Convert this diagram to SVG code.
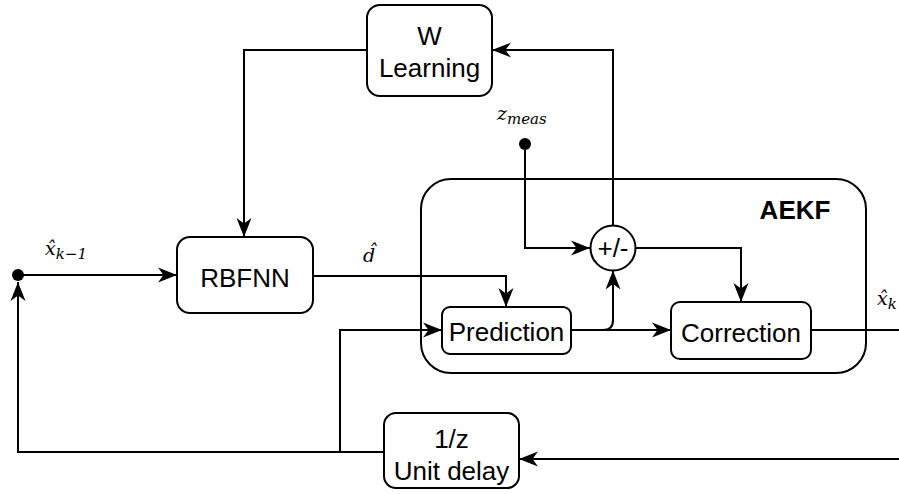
<svg xmlns="http://www.w3.org/2000/svg" width="899" height="494" viewBox="0 0 899 494">
  <defs>
    <marker id="arrow" markerUnits="userSpaceOnUse" markerWidth="20" markerHeight="18" viewBox="0 0 20 18" refX="19" refY="9" orient="auto">
      <path d="M0,1.5 L19,9 L0,16.5 L5.5,9 Z" fill="#000"/>
    </marker>
    <style>
      .box { fill: #fff; stroke: #000; stroke-width: 2; }
      .wire { fill: none; stroke: #000; stroke-width: 2; }
      .arr { marker-end: url(#arrow); }
      .lbl { font-family: "Liberation Sans", Arial, sans-serif; font-size: 26px; fill: #000; text-anchor: middle; }
      .bold { font-weight: bold; }
      .math { font-family: "DejaVu Serif", "Liberation Serif", serif; font-style: italic; fill: #000; }
    </style>
  </defs>

  <!-- AEKF container -->
  <g id="aekf">
    <rect class="box" x="421" y="179" width="445" height="194" rx="30" ry="30"/>
    <text class="lbl bold" x="795" y="219">AEKF</text>
  </g>

  <!-- connectors -->
  <g id="connectors">
    <path class="wire arr" d="M525,144 V248 H590"/>
    <path class="wire arr" d="M613,225.5 V50 H492"/>
    <path class="wire arr" d="M367,50 H244 V237"/>
    <path class="wire arr" d="M635.5,248 H741 V302"/>
    <path class="wire arr" d="M571,330 H671"/>
    <path class="wire arr" d="M571,330 H603 Q613,330 613,320 V270.5"/>
    <path class="wire arr" d="M313,276 H506 V307"/>
    <path class="wire arr" d="M18,275 H177"/>
    <path class="wire arr" d="M384,452 H18 V282"/>
    <path class="wire arr" d="M340,452 V330 H442"/>
    <path class="wire" d="M811,330 H899"/>
    <path class="wire arr" d="M899,459 H519"/>
    <circle cx="18" cy="275" r="6" fill="#000"/>
    <circle cx="525" cy="144" r="6" fill="#000"/>
  </g>

  <!-- signal labels -->
  <g id="labels">
    <text class="math" x="45" y="255" font-size="19">x̂<tspan font-size="15" dy="4">k−1</tspan></text>
    <text class="math" x="363" y="262" font-size="19">d̂</text>
    <text class="math" x="497" y="120" font-size="19">z<tspan font-size="15" dy="4">meas</tspan></text>
    <text class="math" x="877" y="305" font-size="19">x̂<tspan font-size="15" dy="4">k</tspan></text>
  </g>

  <g id="w-learning">
    <rect class="box" x="367" y="5" width="125" height="91" rx="13" ry="13"/>
    <text class="lbl" x="429.5" y="45">W</text>
    <text class="lbl" x="429.5" y="77">Learning</text>
  </g>

  <g id="rbfnn">
    <rect class="box" x="177" y="237" width="136" height="76" rx="13" ry="13"/>
    <text class="lbl" x="245" y="287">RBFNN</text>
  </g>

  <g id="prediction">
    <rect class="box" x="442" y="307" width="129" height="47" rx="8" ry="8"/>
    <text class="lbl" x="506.5" y="341">Prediction</text>
  </g>

  <g id="correction">
    <rect class="box" x="671" y="302" width="140" height="57" rx="9" ry="9"/>
    <text class="lbl" x="741" y="342">Correction</text>
  </g>

  <g id="sum">
    <circle class="box" cx="613" cy="248" r="22.5"/>
    <text class="lbl" x="613" y="257">+/-</text>
  </g>

  <g id="unit-delay">
    <rect class="box" x="384" y="413" width="135" height="75" rx="12" ry="12"/>
    <text class="lbl" x="451.5" y="448">1/z</text>
    <text class="lbl" x="451.5" y="480">Unit delay</text>
  </g>
</svg>
